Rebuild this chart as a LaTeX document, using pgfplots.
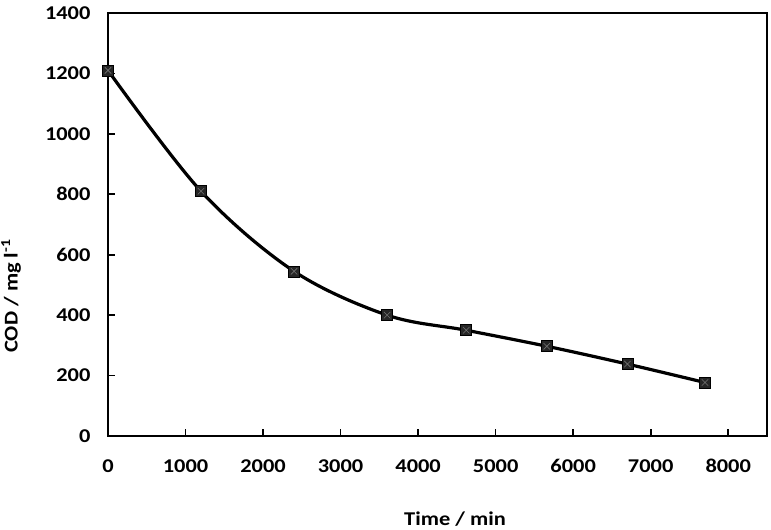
\documentclass[border=0pt]{standalone}
\usepackage{fontspec}
\setmainfont{Carlito}[FakeStretch=1.15]
\usepackage{pgfplots}
\pgfplotsset{compat=1.18}
\begin{document}
\begin{tikzpicture}
\useasboundingbox (0pt,0pt) rectangle (771pt,530pt);
\begin{axis}[
  at={(108pt,94pt)}, anchor=south west,
  scale only axis, width=659pt, height=423pt,
  xmin=0, xmax=8500, ymin=0, ymax=1400,
  xtick={0,1000,...,8000}, ytick={0,200,...,1400},
  tick align=inside, xtick pos=bottom, ytick pos=left,
  major tick length=7pt,
  axis line style={line width=1.6pt},
  tick style={line width=1.6pt, black},
  ticklabel style={font=\fontsize{19.5}{20}\selectfont\bfseries},
  /pgf/number format/assume math mode=true,
  /pgf/number format/1000 sep={},
  yticklabel style={xshift=-14pt},
  xticklabel style={yshift=-20pt},
  clip=false,
]
\addplot[line width=3.2pt, black, smooth, tension=0.55,
  mark=square*, mark size=5.5pt, mark options={fill=black!85, draw=black, line width=0.6pt}]
  coordinates {
  (0,1210) (1200,810) (2400,545) (3600,400) (4620,350) (5660,297) (6700,238) (7700,177)
  };
\addplot[only marks, mark=x, mark size=4.5pt, mark options={draw=black!55, line width=0.6pt}]
  coordinates {
  (0,1210) (1200,810) (2400,545) (3600,400) (4620,350) (5660,297) (6700,238) (7700,177)
  };
\end{axis}
\node at (455pt,11pt) {\fontsize{19.5}{20}\selectfont\bfseries Time / min};
\node[rotate=90] at (11pt,234pt) {\fontsize{19.5}{20}\selectfont\bfseries COD / mg l\textsuperscript{-1}};
\end{tikzpicture}
\end{document}
